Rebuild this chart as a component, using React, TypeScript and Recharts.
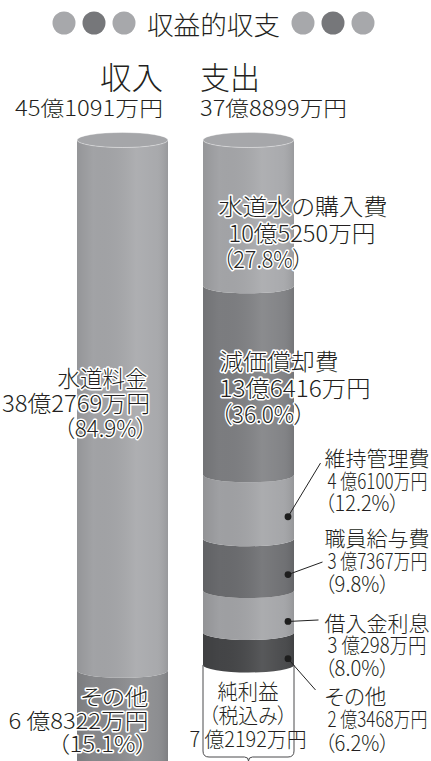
import React from 'react';
import { BarChart, Bar, XAxis, YAxis, LabelList } from 'recharts';

// 単位: 億円
const categories = ['収入', '支出'];
const incomeItems = ['水道料金', 'その他'];
const incomeValues = [38.2769, 6.8322];
const expenseItems = ['水道水の購入費', '減価償却費', '維持管理費', '職員給与費', '借入金利息', 'その他', '純利益（税込み）'];
const expenseValues = [10.525, 13.6416, 4.61, 3.7367, 3.0298, 2.3468, 7.2192];
const totalTexts = ['45億1091万円', '37億8899万円'];

const incomeColors = ['#a5a6a9', '#898a8d'];
const expenseColors = ['#a6a7aa', '#7e7f82', '#a2a3a6', '#6b6c6f', '#a2a3a6', '#454648', '#ffffff'];

const FONT = '"Noto Sans CJK JP Light", "Noto Sans CJK JP DemiLight", "Noto Sans CJK JP", "Noto Sans", sans-serif';
const TOTAL = incomeValues.reduce((a, b) => a + b, 0);

const rows = [
  { cat: categories[0], ...Object.fromEntries(incomeValues.map((v, i) => [`i${i}`, v])) },
  { cat: categories[1], ...Object.fromEntries(expenseValues.map((v, i) => [`e${i}`, v])) },
];

// label text: [text, dx from bar left, width]; dy = first line offset from segment top
type Line = [string, number, number];
interface LabelCfg {
  lines: Line[];
  dy: number;
  lh: number;
  size: number;
  halo?: boolean;
  leader?: [number, number];
}

const incomeLabels: LabelCfg[] = [
  { lines: [['水道料金', -19.5, 90], ['38億2769万円', -75, 148], ['（84.9%）', -13.5, 84]], dy: 237, lh: 25, size: 23, halo: true },
  { lines: [['その他', 3.5, 68], ['6 億8322万円', -68.5, 140], ['（15.1%）', -19.5, 90]], dy: 24.7, lh: 23.5, size: 22, halo: true },
];

const expenseLabels: LabelCfg[] = [
  { lines: [['水道水の購入費', 15.5, 169], ['10億5250万円', 25.5, 147], ['（27.8%）', 19.5, 81]], dy: 65, lh: 26.5, size: 23, halo: true },
  { lines: [['減価償却費', 16.5, 119], ['13億6416万円', 16.5, 151], ['（36.0%）', 17.5, 85]], dy: 74.2, lh: 26.5, size: 23, halo: true },
  { lines: [['維持管理費', 121.5, 105], ['4 億6100万円', 124.5, 100], ['（12.2%）', 121.5, 75]], dy: -17.8, lh: 22.5, size: 21, leader: [117.5, 6] },
  { lines: [['職員給与費', 121.5, 105], ['3 億7367万円', 124.5, 100], ['（9.8%）', 121.5, 65]], dy: -1.7, lh: 23, size: 21, leader: [119.5, 25] },
  { lines: [['借入金利息', 121.5, 105], ['3 億298万円', 124.5, 99], ['（8.0%）', 121.5, 65]], dy: 31.5, lh: 22.5, size: 21, leader: [115.5, -2] },
  { lines: [['その他', 121.5, 62], ['2 億3468万円', 124.5, 100], ['（6.2%）', 121.5, 65]], dy: 62.5, lh: 23.5, size: 21, leader: [112.5, -5] },
  { lines: [['純利益', 14.5, 61], ['（税込み）', 5.5, 79], ['7 億2192万円', -13.5, 117]], dy: 25, lh: 24, size: 21 },
];

const RY = 7.5;

const Cylinder = (props: any) => {
  const { x, y, width, height, color, top, outline } = props;
  if (!height || height <= 0) return <g />;
  const w = width;
  const b = y + height;
  const d = `M${x},${y} A${w / 2},${RY} 0 0 0 ${x + w},${y} L${x + w},${b} A${w / 2},${RY} 0 0 1 ${x},${b} Z`;
  if (outline) {
    const cx = x + w / 2;
    const yb = b - 8;
    const brace = `M${x},${y} L${x},${yb - 6} Q${x},${yb} ${x + 6},${yb} L${cx - 4},${yb} Q${cx},${yb} ${cx},${yb + 4} Q${cx},${yb} ${cx + 4},${yb} L${x + w - 6},${yb} Q${x + w},${yb} ${x + w},${yb - 6} L${x + w},${y}`;
    return (
      <g>
        <path d={d} fill="#fff" />
        <path d={brace} fill="none" stroke="#4a4a4c" strokeWidth={1} />
      </g>
    );
  }
  return (
    <g>
      <path d={d} fill={color} />
      <path d={d} fill="url(#cylShade)" />
      {top && (
        <ellipse cx={x + w / 2} cy={y} rx={w / 2} ry={RY} fill={color} stroke="rgba(255,255,255,0.35)" strokeWidth={1} />
      )}
    </g>
  );
};

const renderLabel = (cfg: LabelCfg) => (p: any) => {
  const { x, y, width, height, value } = p;
  if (value == null || !height) return null;
  const y0 = y + cfg.dy;
  const dotX = x + width - 6;
  const dotY = y + height / 2 + 10;
  return (
    <g>
      {cfg.leader && (
        <g>
          <line x1={dotX} y1={dotY} x2={x + cfg.leader[0]} y2={y0 + cfg.leader[1]} stroke="#222" strokeWidth={1} />
          <circle cx={dotX} cy={dotY} r={3.4} fill="#1e1e1e" />
        </g>
      )}
      {cfg.lines.map(([t, dx, w], i) => (
        <text
          key={i}
          x={x + dx}
          y={y0 + i * cfg.lh}
          dominantBaseline="central"
          textLength={w}
          lengthAdjust="spacingAndGlyphs"
          fontSize={cfg.size}
          fontFamily={FONT}
          fontWeight={300}
          fill="#231f20"
          stroke={cfg.halo ? '#fff' : 'none'}
          strokeWidth={cfg.halo ? 3 : 0}
          strokeLinejoin="round"
          paintOrder="stroke"
          style={{ fontFeatureSettings: '"palt"' }}
        >
          {t}
        </text>
      ))}
    </g>
  );
};

const dotColors = ['#a7a8ab', '#76777a', '#a7a8ab'];

export default function App() {
  return (
    <div style={{ position: 'absolute', left: 0, top: 0, width: 431, height: 761, overflow: 'hidden', background: '#fff' }}>
      <svg width={431} height={130} style={{ position: 'absolute', left: 0, top: 0 }}>
        {dotColors.map((c, i) => (
          <circle key={`l${i}`} cx={64 + i * 30} cy={23} r={11.5} fill={c} />
        ))}
        {dotColors.map((c, i) => (
          <circle key={`r${i}`} cx={303 + i * 30} cy={23} r={11.5} fill={c} />
        ))}
        <text x={213.5} y={23} textAnchor="middle" dominantBaseline="central" fontSize={26} fontFamily={FONT} fontWeight={400} fill="#231f20" textLength={133} lengthAdjust="spacingAndGlyphs">
          収益的収支
        </text>
        <text x={100} y={75} dominantBaseline="central" fontSize={31} fontFamily={FONT} fontWeight={300} fill="#231f20" textLength={63} lengthAdjust="spacingAndGlyphs">
          {categories[0]}
        </text>
        <text x={200} y={75} dominantBaseline="central" fontSize={31} fontFamily={FONT} fontWeight={300} fill="#231f20" textLength={60} lengthAdjust="spacingAndGlyphs">
          {categories[1]}
        </text>
        <text x={15} y={107} dominantBaseline="central" fontSize={21} fontFamily={FONT} fontWeight={300} fill="#231f20" textLength={148} lengthAdjust="spacingAndGlyphs">
          {totalTexts[0]}
        </text>
        <text x={200} y={107} dominantBaseline="central" fontSize={21} fontFamily={FONT} fontWeight={300} fill="#231f20" textLength={147} lengthAdjust="spacingAndGlyphs">
          {totalTexts[1]}
        </text>
      </svg>
      <div style={{ position: 'absolute', left: 0, top: 0 }}>
        <BarChart width={431} height={775} data={rows} margin={{ top: 140, right: 120, bottom: 10, left: 59 }} barSize={91}>
          <defs>
            <linearGradient id="cylShade" x1="0" y1="0" x2="1" y2="0">
              <stop offset="0%" stopColor="#000" stopOpacity={0.1} />
              <stop offset="18%" stopColor="#000" stopOpacity={0.02} />
              <stop offset="65%" stopColor="#fff" stopOpacity={0.1} />
              <stop offset="88%" stopColor="#fff" stopOpacity={0.04} />
              <stop offset="100%" stopColor="#000" stopOpacity={0.08} />
            </linearGradient>
          </defs>
          <XAxis dataKey="cat" hide />
          <YAxis hide domain={[0, TOTAL]} />
          {incomeItems.map((name, i) => ({ name, i })).reverse().map(({ name, i }) => (
            <Bar
              key={`i${i}`}
              dataKey={`i${i}`}
              name={name}
              stackId="s"
              isAnimationActive={false}
              shape={(p: any) => <Cylinder {...p} color={incomeColors[i]} top={i === 0} />}
            >
              <LabelList dataKey={`i${i}`} content={renderLabel(incomeLabels[i])} />
            </Bar>
          ))}
          {expenseItems.map((name, i) => ({ name, i })).reverse().map(({ name, i }) => (
            <Bar
              key={`e${i}`}
              dataKey={`e${i}`}
              name={name}
              stackId="s"
              isAnimationActive={false}
              shape={(p: any) => (
                <Cylinder {...p} color={expenseColors[i]} top={i === 0} outline={i === expenseItems.length - 1} />
              )}
            >
              <LabelList dataKey={`e${i}`} content={renderLabel(expenseLabels[i])} />
            </Bar>
          ))}
        </BarChart>
      </div>
    </div>
  );
}
